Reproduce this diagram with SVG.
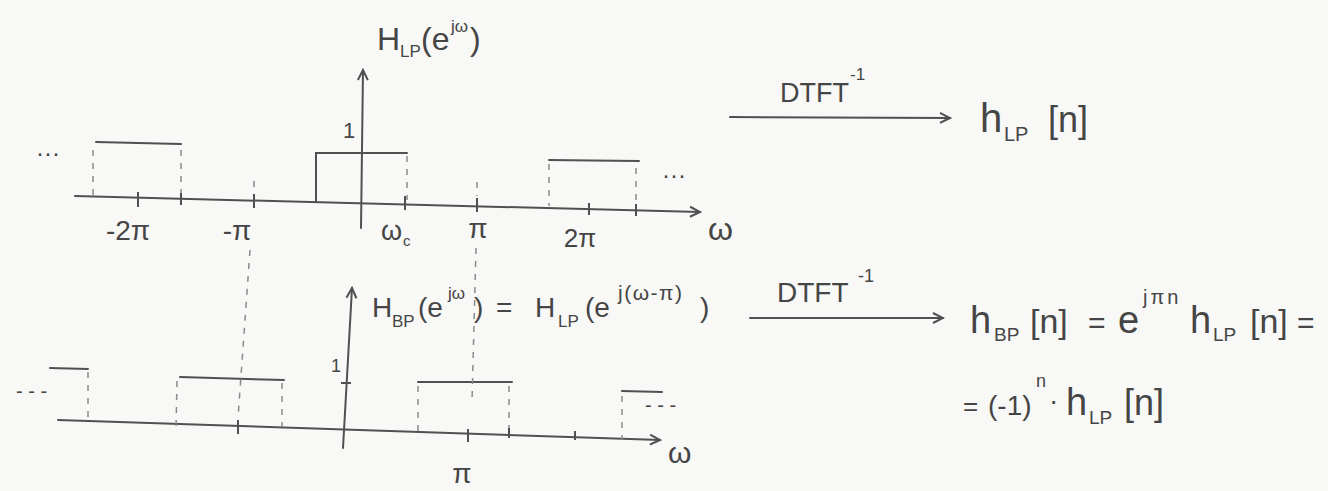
<svg xmlns="http://www.w3.org/2000/svg" width="1328" height="491" viewBox="0 0 1328 491">
<style>
.t{fill:#454545;font-family:"Liberation Sans",Arial,sans-serif}
.ln{stroke:#505050;stroke-width:2;fill:none;stroke-linecap:round}
.tk{stroke:#505050;stroke-width:2;fill:none}
.ds{stroke:#8a8a8a;stroke-width:1.5;fill:none;stroke-dasharray:6 7}
</style>
<defs>
<marker id="arr" viewBox="0 0 14 14" refX="12" refY="7" markerWidth="14" markerHeight="14" markerUnits="userSpaceOnUse" orient="auto">
<path d="M2,2 L12,7 L2,12" fill="none" stroke="#505050" stroke-width="2"/>
</marker>
</defs>
<rect x="0" y="0" width="1328" height="491" fill="#f8f8f6"/>

<g id="plot-lowpass">
<line class="ln" x1="75" y1="196" x2="700" y2="212" marker-end="url(#arr)"/>
<line class="ln" x1="361" y1="228" x2="363" y2="70" marker-end="url(#arr)"/>
<polyline class="ln" points="316,202 316,153 407,153"/>
<line class="ds" x1="407" y1="156" x2="407" y2="200"/>
<line class="ln" x1="96" y1="142" x2="181" y2="144"/>
<line class="ds" x1="93" y1="150" x2="93" y2="196"/>
<line class="ds" x1="181" y1="150" x2="181" y2="199"/>
<line class="ln" x1="549" y1="160" x2="639" y2="161"/>
<line class="ds" x1="549" y1="164" x2="549" y2="206"/>
<line class="ds" x1="636" y1="168" x2="636" y2="210"/>
<line class="tk" x1="138" y1="192" x2="138" y2="207"/>
<line class="tk" x1="181" y1="193" x2="181" y2="205"/>
<line class="tk" x1="254" y1="194" x2="254" y2="208"/>
<line class="ds" x1="254" y1="181" x2="254" y2="192"/>
<line class="tk" x1="405" y1="196" x2="405" y2="210"/>
<line class="tk" x1="477" y1="198" x2="477" y2="212"/>
<line class="ds" x1="477" y1="182" x2="477" y2="196"/>
<line class="tk" x1="589" y1="203" x2="589" y2="215"/>
<line class="tk" x1="636" y1="204" x2="636" y2="216"/>
<text class="t" x="343" y="138" font-size="22">1</text>
<text class="t" x="36" y="161" font-size="24">···</text>
<text class="t" x="662" y="183" font-size="24">···</text>
<text class="t" x="128" y="240" font-size="28" text-anchor="middle">-2π</text>
<text class="t" x="237" y="240" font-size="28" text-anchor="middle">-π</text>
<text class="t" x="381" y="240" font-size="27">ω</text>
<text class="t" x="403" y="246" font-size="15">c</text>
<text class="t" x="478" y="238" font-size="28" text-anchor="middle">π</text>
<text class="t" x="580" y="247" font-size="26" text-anchor="middle">2π</text>
<text class="t" x="708" y="240" font-size="32">ω</text>
<text class="t" x="377" y="50" font-size="32">H</text>
<text class="t" x="400" y="57" font-size="17">LP</text>
<text class="t" x="421" y="50" font-size="32">(e</text>
<text class="t" x="451" y="32" font-size="17">jω</text>
<text class="t" x="470" y="50" font-size="32">)</text>
</g>

<g id="plot-bandpass">
<line class="ln" x1="58" y1="420" x2="660" y2="440" marker-end="url(#arr)"/>
<line class="ln" x1="343" y1="448" x2="352" y2="288" marker-end="url(#arr)"/>
<line class="tk" x1="341" y1="383" x2="351" y2="383"/>
<text class="t" x="331" y="372" font-size="18">1</text>
<line class="ln" x1="50" y1="368" x2="88" y2="369"/>
<line class="ds" x1="88" y1="372" x2="88" y2="421"/>
<text class="t" x="16" y="398" font-size="20">- - -</text>
<line class="ln" x1="180" y1="377" x2="284" y2="380"/>
<line class="ds" x1="177" y1="381" x2="176" y2="430"/>
<line class="ds" x1="282" y1="383" x2="282" y2="427"/>
<line class="ds" x1="250" y1="250" x2="238" y2="418"/>
<line class="tk" x1="238" y1="420" x2="238" y2="434"/>
<line class="ln" x1="418" y1="382" x2="512" y2="382"/>
<line class="ds" x1="418" y1="386" x2="418" y2="432"/>
<line class="ds" x1="509" y1="386" x2="509" y2="433"/>
<line class="ds" x1="476" y1="248" x2="472" y2="402"/>
<line class="tk" x1="468" y1="429" x2="468" y2="442"/>
<line class="tk" x1="509" y1="428" x2="509" y2="438"/>
<line class="tk" x1="575" y1="431" x2="575" y2="440"/>
<line class="ln" x1="622" y1="391" x2="662" y2="392"/>
<line class="ds" x1="622" y1="396" x2="622" y2="440"/>
<text class="t" x="645" y="412" font-size="20">- - -</text>
<text class="t" x="462" y="483" font-size="28" text-anchor="middle">π</text>
<text class="t" x="668" y="463" font-size="30">ω</text>
<text class="t" x="372" y="317" font-size="28">H</text>
<text class="t" x="392" y="327" font-size="17">BP</text>
<text class="t" x="418" y="317" font-size="28">(e</text>
<text class="t" x="448" y="299" font-size="17">jω</text>
<text class="t" x="474" y="317" font-size="28">)</text>
<text class="t" x="496" y="317" font-size="28">=</text>
<text class="t" x="535" y="317" font-size="28">H</text>
<text class="t" x="558" y="327" font-size="17">LP</text>
<text class="t" x="585" y="317" font-size="28">(e</text>
<text class="t" x="618" y="300" font-size="21" letter-spacing="1.5">j(ω-π)</text>
<text class="t" x="700" y="317" font-size="28">)</text>
</g>

<g id="connectors">
<line class="ln" x1="730" y1="117" x2="950" y2="118" marker-end="url(#arr)"/>
<line class="ln" x1="750" y1="318" x2="943" y2="318" marker-end="url(#arr)"/>
</g>

<g id="label-dtft-top">
<text class="t" x="780" y="102" font-size="27">DTFT</text>
<text class="t" x="850" y="80" font-size="17">-1</text>
</g>
<g id="label-dtft-bottom">
<text class="t" x="777" y="302" font-size="28">DTFT</text>
<text class="t" x="858" y="282" font-size="18">-1</text>
</g>

<g id="result-lowpass">
<text class="t" x="980" y="132" font-size="40">h</text>
<text class="t" x="1004" y="141" font-size="20">LP</text>
<text class="t" x="1048" y="132" font-size="36">[n]</text>
</g>

<g id="result-bandpass">
<text class="t" x="970" y="333" font-size="38">h</text>
<text class="t" x="994" y="341" font-size="19">BP</text>
<text class="t" x="1030" y="333" font-size="34">[n]</text>
<text class="t" x="1088" y="333" font-size="30">=</text>
<text class="t" x="1118" y="333" font-size="38">e</text>
<text class="t" x="1143" y="304" font-size="20" letter-spacing="3">jπn</text>
<text class="t" x="1190" y="333" font-size="38">h</text>
<text class="t" x="1213" y="341" font-size="19">LP</text>
<text class="t" x="1250" y="333" font-size="34">[n]</text>
<text class="t" x="1297" y="333" font-size="30">=</text>
<text class="t" x="963" y="415" font-size="26">=</text>
<text class="t" x="988" y="415" font-size="28">(-1)</text>
<text class="t" x="1036" y="387" font-size="18">n</text>
<text class="t" x="1049" y="410" font-size="28">·</text>
<text class="t" x="1066" y="415" font-size="38">h</text>
<text class="t" x="1089" y="424" font-size="19">LP</text>
<text class="t" x="1124" y="415" font-size="36">[n]</text>
</g>
</svg>
